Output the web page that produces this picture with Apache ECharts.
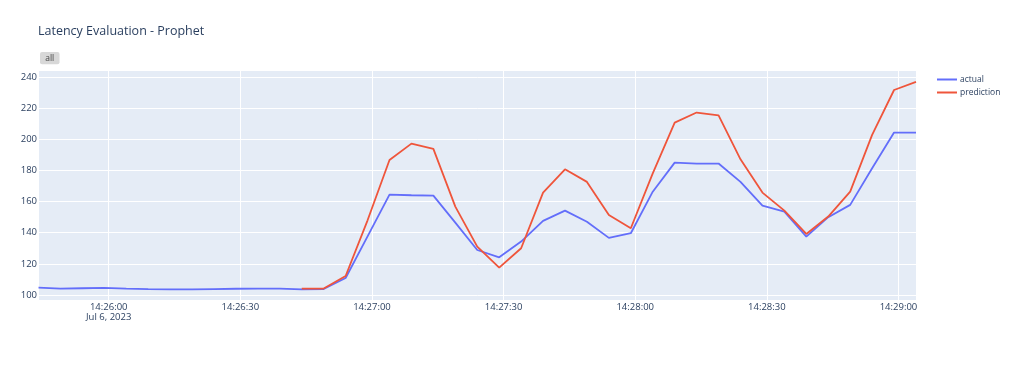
<!DOCTYPE html>
<html>
<head>
<meta charset="utf-8">
<script src="https://cdn.jsdelivr.net/npm/echarts@6/dist/echarts.min.js"></script>
<style>
html,body{margin:0;padding:0;background:#fff;}
#chart{width:1024px;height:379px;}
</style>
</head>
<body>
<div id="chart"></div>
<script>
const titleText = 'Latency Evaluation - Prophet';
const dateLabel = 'Jul 6, 2023';
const buttonLabel = 'all';
const seriesNames = ['actual', 'prediction'];
const times = ['14:25:44','14:25:49','14:25:54','14:25:59','14:26:04','14:26:09','14:26:14','14:26:19','14:26:24','14:26:29',
  '14:26:34','14:26:39','14:26:44','14:26:49','14:26:54','14:26:59','14:27:04','14:27:09','14:27:14','14:27:19',
  '14:27:24','14:27:29','14:27:34','14:27:39','14:27:44','14:27:49','14:27:54','14:27:59','14:28:04','14:28:09',
  '14:28:14','14:28:19','14:28:24','14:28:29','14:28:34','14:28:39','14:28:44','14:28:49','14:28:54','14:28:59','14:29:04'];
const actual = [104.7,104.1,104.3,104.5,104.1,103.8,103.6,103.6,103.8,104.0,
  104.1,104.1,103.6,103.8,110.9,137.7,164.5,164.1,163.9,146.5,
  128.9,124.2,134.3,147.6,154.2,147.1,136.7,139.7,166.4,185.1,
  184.5,184.5,172.7,157.4,153.6,137.5,150.0,157.9,181.5,204.4,204.4];
const prediction = [null,null,null,null,null,null,null,null,null,null,null,null,
  104.1,104.1,112.2,148.0,186.8,197.3,193.9,156.8,131.1,117.6,
  130.0,165.8,180.8,172.7,151.4,142.9,178.2,210.8,217.3,215.5,
  187.2,165.8,154.2,139.2,150.4,166.4,202.9,231.8,237.0];

function toMs(t){
  const p = t.split(':').map(Number);
  return new Date(2023, 6, 6, p[0], p[1], p[2]).getTime();
}
const xs = times.map(toMs);
const firstTick = new Date(2023, 6, 6, 14, 26, 0).getTime();
function pad(n){return (n<10?'0':'')+n;}

const chart = echarts.init(document.getElementById('chart'), null, {renderer:'canvas'});
const txt = '#2a3f5f';
const font = '"Open Sans", "Liberation Sans", sans-serif';
chart.setOption({
  animation:false,
  backgroundColor:'#fff',
  title:{text:titleText, left:38, top:25, padding:0, textStyle:{fontFamily:font, fontSize:12.5, fontWeight:'normal', color:txt}},
  legend:{
    orient:'vertical', left:937, top:74, padding:0, itemWidth:20, itemHeight:2, itemGap:2, icon:'rect',
    textStyle:{fontFamily:font, fontSize:8.5, color:txt, lineHeight:11, padding:[0,0,0,-2]},
    data:seriesNames
  },
  grid:{left:38.5, right:108, top:70.7, bottom:78.3, show:true, backgroundColor:'#E5ECF6', borderWidth:0, containLabel:false},
  xAxis:{
    type:'time', min:xs[0], max:xs[xs.length-1], splitNumber:6,
    axisLine:{show:false}, axisTick:{show:false},
    splitLine:{show:true, lineStyle:{color:'#fff', width:1}},
    axisLabel:{showMinLabel:false, showMaxLabel:false, fontFamily:font, fontSize:9.5, color:txt, margin:1, lineHeight:10.5,
      formatter:function(v){
        const d = new Date(v);
        let s = pad(d.getHours())+':'+pad(d.getMinutes())+':'+pad(d.getSeconds());
        if (v === firstTick) s += '\n' + dateLabel;
        return s;
      }}
  },
  yAxis:{
    type:'value', min:96.3, max:244.2, splitNumber:7,
    axisLine:{show:false}, axisTick:{show:false},
    splitLine:{show:true, lineStyle:{color:'#fff', width:1}},
    axisLabel:{showMinLabel:false, showMaxLabel:false, fontFamily:font, fontSize:9.5, color:txt, margin:1.5}
  },
  graphic:[{
    type:'group', left:40, top:52,
    children:[
      {type:'rect', shape:{x:0,y:0,width:19.5,height:12.3,r:2}, style:{fill:'#d8d8d8'}},
      {type:'text', x:9.75, y:6.2, style:{text:buttonLabel, fontFamily:font, fontSize:8.5, fill:'#444', align:'center', verticalAlign:'middle'}}
    ]
  }],
  series:[
    {name:seriesNames[0], type:'line', data:xs.map((x,i)=>[x, actual[i]]), showSymbol:false, symbol:'none',
      lineStyle:{color:'#636EFA', width:1.8}, itemStyle:{color:'#636EFA'}},
    {name:seriesNames[1], type:'line', data:xs.map((x,i)=>[x, prediction[i]]), showSymbol:false, symbol:'none',
      lineStyle:{color:'#EF553B', width:1.8}, itemStyle:{color:'#EF553B'}}
  ]
});
</script>
</body>
</html>
